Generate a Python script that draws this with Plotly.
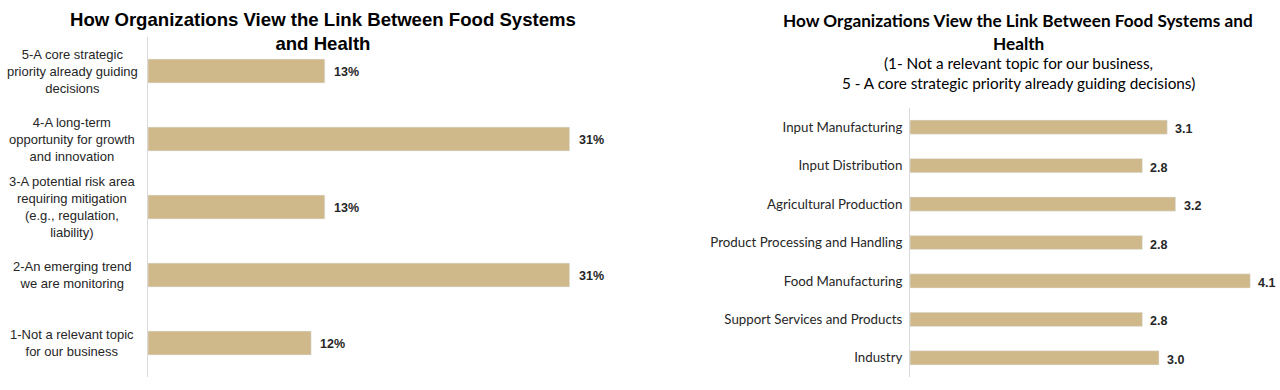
import plotly.graph_objects as go

# Left chart data
left_categories = [
    "5-A core strategic<br>priority already guiding<br>decisions",
    "4-A long-term<br>opportunity for growth<br>and innovation",
    "3-A potential risk area<br>requiring mitigation<br>(e.g., regulation,<br>liability)",
    "2-An emerging trend<br>we are monitoring",
    "1-Not a relevant topic<br>for our business",
]
left_values = [13, 31, 13, 31, 12]

# Right chart data
right_categories = [
    "Input Manufacturing",
    "Input Distribution",
    "Agricultural Production",
    "Product Processing and Handling",
    "Food Manufacturing",
    "Support Services and Products",
    "Industry",
]
right_values = [3.1, 2.8, 3.2, 2.8, 4.1, 2.8, 3.0]

BAR = "#CFB88A"
W, H = 1280, 390
ARIAL = "Liberation Sans, Arial"
CAL = "Lato, Carlito, Calibri, sans-serif"


def px(v):
    return v / W


def py(v):
    return 1 - v / H


fig = go.Figure()
fig.add_trace(go.Bar(
    x=left_values, y=left_categories, orientation="h",
    marker_color=BAR, width=0.35, xaxis="x", yaxis="y",
    hoverinfo="x+y",
))
fig.add_trace(go.Bar(
    x=right_values, y=right_categories, orientation="h",
    marker_color=BAR, width=0.37, xaxis="x2", yaxis="y2",
    hoverinfo="x+y",
))

annotations = []
for c in left_categories:
    annotations.append(dict(
        x=px(72), xref="paper", y=c, yref="y", text=c, showarrow=False,
        xanchor="center", yanchor="middle", align="center",
        font=dict(family=ARIAL, size=13, color="#262626"),
    ))
for c, v in zip(left_categories, left_values):
    annotations.append(dict(
        x=v, xref="x", y=c, yref="y", text=f"<b>{v}%</b>", showarrow=False,
        xanchor="left", yanchor="middle", xshift=7, yshift=-1,
        font=dict(family=ARIAL, size=12.5, color="#262626"),
    ))
for c, v in zip(right_categories, right_values):
    annotations.append(dict(
        x=v, xref="x2", y=c, yref="y2", text=f"<b>{v:.1f}</b>", showarrow=False,
        xanchor="left", yanchor="middle", xshift=6, yshift=-2,
        font=dict(family=ARIAL, size=12.5, color="#262626"),
    ))
annotations.append(dict(
    x=px(323), xref="paper", y=py(31.5), yref="paper",
    text="<b>How Organizations View the Link Between Food Systems<br>and Health</b>",
    showarrow=False, xanchor="center", yanchor="middle", align="center",
    font=dict(family=ARIAL, size=18.6, color="#000000"),
))
rt = [
    ("<b>How Organizations View the Link Between Food Systems and</b>", 20, 17.2),
    ("<b>Health</b>", 43, 17.2),
    ("(1- Not a relevant topic for our business,", 63, 15.3),
    ("5 - A core strategic priority already guiding decisions)", 83, 15.3),
]
for t, yy, fs in rt:
    annotations.append(dict(
        x=px(1018), xref="paper", y=py(yy), yref="paper", text=t,
        showarrow=False, xanchor="center", yanchor="middle",
        font=dict(family=CAL, size=fs, color="#000000"),
    ))

fig.update_layout(
    width=W, height=H,
    margin=dict(l=0, r=0, t=0, b=0),
    paper_bgcolor="white", plot_bgcolor="white",
    showlegend=False,
    annotations=annotations,
    xaxis=dict(domain=[px(148), px(600)], range=[0, 452 / 13.6],
               showgrid=False, zeroline=False, showticklabels=False, ticks=""),
    yaxis=dict(domain=[py(377), py(37)], autorange="reversed",
               showgrid=False, zeroline=False, showticklabels=False, ticks="",
               showline=True, linecolor="#D9D9D9", linewidth=1),
    xaxis2=dict(domain=[px(910), 1.0], range=[0, 370 / 83.0], anchor="y2",
                showgrid=False, zeroline=False, showticklabels=False, ticks=""),
    yaxis2=dict(domain=[py(377), py(108)], anchor="x2", autorange="reversed",
                showgrid=False, zeroline=False, ticks="", ticklabelstandoff=4,
                tickfont=dict(family=CAL, size=13.3, color="#262626"),
                showline=True, linecolor="#D9D9D9", linewidth=1),
)

fig.write_html(
    "out.html",
    config={"displayModeBar": False},
    post_script="document.body.style.margin='0';document.body.style.overflow='hidden';",
)
